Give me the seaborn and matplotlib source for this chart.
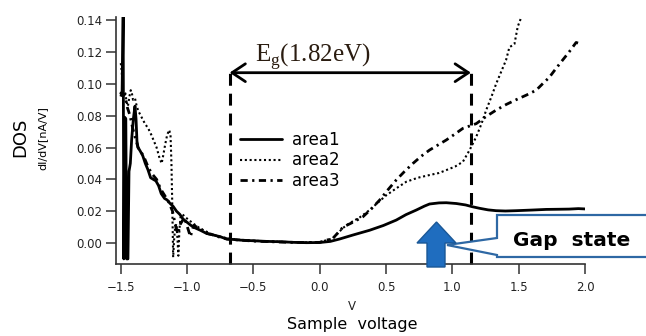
import numpy as np
import pandas as pd
import matplotlib
matplotlib.use('Agg')
import matplotlib.pyplot as plt
from matplotlib.patches import Polygon
import seaborn as sns

# --- data ---
x_area1 = [-1.500, -1.490, -1.482, -1.477, -1.470, -1.462, -1.456, -1.446, -1.438, -1.428,
           -1.418, -1.405, -1.393, -1.385, -1.378, -1.370, -1.355, -1.335, -1.315, -1.295,
           -1.275, -1.255, -1.235, -1.215, -1.195, -1.170, -1.150, -1.130, -1.105, -1.080,
           -1.055, -1.030, -1.000, -0.970, -0.940, -0.900, -0.853, -0.800, -0.753, -0.700,
           -0.650, -0.600, -0.500, -0.400, -0.300, -0.200, -0.100, 0.000, 0.080, 0.150,
           0.250, 0.376, 0.480, 0.577, 0.650, 0.728, 0.790, 0.828, 0.900, 0.954,
           1.030, 1.100, 1.150, 1.205, 1.270, 1.330, 1.400, 1.480, 1.600, 1.707,
           1.800, 1.880, 1.950, 2.000]
y_area1 = [0.094, 0.095, 0.142, -0.010, 0.079, 0.078, -0.010, -0.010, 0.045, 0.050,
           0.065, 0.078, 0.086, 0.078, 0.064, 0.060, 0.058, 0.055, 0.050, 0.046,
           0.041, 0.040, 0.039, 0.036, 0.031, 0.028, 0.027, 0.025, 0.023, 0.020,
           0.018, 0.015, 0.013, 0.011, 0.0095, 0.008, 0.006, 0.005, 0.004, 0.0025,
           0.0022, 0.0018, 0.0014, 0.0010, 0.0008, 0.0004, 0.0002, 0.0003, 0.0010, 0.0025,
           0.0050, 0.0080, 0.0110, 0.0144, 0.0178, 0.0207, 0.0232, 0.0245, 0.0252, 0.0253,
           0.0248, 0.0239, 0.0228, 0.0218, 0.0208, 0.0203, 0.0201, 0.0203, 0.0207, 0.0211,
           0.0212, 0.0213, 0.0216, 0.0214]

x_area2 = [-1.500, -1.493, -1.488, -1.485, -1.475, -1.465, -1.455, -1.446, -1.435, -1.425,
           -1.418, -1.408, -1.393, -1.380, -1.368, -1.343, -1.318, -1.293, -1.270, -1.255,
           -1.230, -1.210, -1.192, -1.180, -1.165, -1.150, -1.135, -1.125, -1.118, -1.112,
           -1.105, -1.098, -1.090, -1.080, -1.072, -1.066, -1.058, -1.050, -1.035, -1.010,
           -0.980, -0.950, -0.900, -0.850, -0.800, -0.750, -0.700, -0.600, -0.500, -0.400,
           -0.300, -0.200, -0.100, 0.000, 0.100, 0.176, 0.226, 0.300, 0.376, 0.440,
           0.502, 0.580, 0.653, 0.740, 0.828, 0.900, 0.954, 1.020, 1.079, 1.130,
           1.180, 1.220, 1.255, 1.295, 1.330, 1.370, 1.405, 1.430, 1.468, 1.493, 1.525]
y_area2 = [0.113, 0.108, 0.100, 0.094, 0.093, 0.094, 0.088, 0.086, 0.092, 0.096,
           0.095, 0.090, 0.091, 0.086, 0.083, 0.079, 0.075, 0.072, 0.068, 0.065,
           0.060, 0.054, 0.050, 0.055, 0.062, 0.068, 0.071, 0.068, 0.050, 0.025,
           -0.009, 0.002, 0.010, 0.012, 0.002, -0.008, 0.008, 0.016, 0.018, 0.016,
           0.014, 0.012, 0.009, 0.007, 0.005, 0.004, 0.003, 0.002, 0.0015, 0.0010,
           0.0008, 0.0005, 0.0004, 0.0005, 0.0030, 0.0095, 0.0125, 0.0160, 0.0207, 0.0255,
           0.0300, 0.0345, 0.0385, 0.0410, 0.0427, 0.0440, 0.0458, 0.0480, 0.0510, 0.0584,
           0.0667, 0.0750, 0.0835, 0.0920, 0.1000, 0.1080, 0.1150, 0.1230, 0.1250, 0.1360, 0.1430]

x_area3 = [-1.500, -1.490, -1.478, -1.465, -1.450, -1.430, -1.410, -1.390, -1.370, -1.345,
           -1.320, -1.290, -1.260, -1.230, -1.200, -1.170, -1.140, -1.110, -1.085, -1.070,
           -1.050, -1.020, -0.990, -0.975, -0.950, -0.900, -0.850, -0.800, -0.750, -0.700,
           -0.600, -0.500, -0.400, -0.300, -0.200, -0.100, 0.000, 0.100, 0.176, 0.250,
           0.326, 0.390, 0.452, 0.515, 0.577, 0.640, 0.703, 0.765, 0.828, 0.890,
           0.954, 1.020, 1.079, 1.130, 1.180, 1.255, 1.330, 1.405, 1.480, 1.560,
           1.632, 1.680, 1.730, 1.780, 1.832, 1.880, 1.933, 1.970]
y_area3 = [0.092, 0.094, 0.093, 0.091, 0.085, 0.080, 0.072, 0.066, 0.060, 0.057,
           0.053, 0.047, 0.043, 0.040, 0.034, 0.030, 0.026, 0.020, 0.010, 0.006,
           0.012, 0.016, 0.008, 0.004, 0.011, 0.009, 0.006, 0.005, 0.0035, 0.0025,
           0.0018, 0.0012, 0.0009, 0.0006, 0.0004, 0.0003, 0.0004, 0.0030, 0.0100, 0.0130,
           0.0165, 0.0215, 0.0270, 0.0335, 0.0396, 0.0450, 0.0500, 0.0545, 0.0584, 0.0615,
           0.0647, 0.0685, 0.0720, 0.0735, 0.0750, 0.0795, 0.0835, 0.0870, 0.0900, 0.0930,
           0.0960, 0.1000, 0.1040, 0.1095, 0.1150, 0.1200, 0.1260, 0.1250]

series_labels = ['area1', 'area2', 'area3']
x_ticks = [-1.5, -1.0, -0.5, 0.0, 0.5, 1.0, 1.5, 2.0]
y_ticks = [0.00, 0.02, 0.04, 0.06, 0.08, 0.10, 0.12, 0.14]
gap_lo, gap_hi = -0.68, 1.14
gap_label = r'E$_{\rm g}$(1.82eV)'

sns.set_style('ticks')
plt.rcParams['font.family'] = ['DejaVu Sans']
plt.rcParams['text.color'] = 'black'
plt.rcParams['mathtext.fontset'] = 'custom'
plt.rcParams['mathtext.rm'] = 'Liberation Serif'

W, H = 646, 336
fig = plt.figure(figsize=(W / 100, H / 100), dpi=100)


def fx(px):
    return px / W


def fy(py):
    return 1 - py / H


ax = fig.add_axes([fx(116), fy(264), (585 - 116) / W, (264 - 17) / H])

sns.lineplot(x=x_area1, y=y_area1, ax=ax, sort=False, estimator=None, color='black',
             lw=2.0, label=series_labels[0])
sns.lineplot(x=x_area2, y=y_area2, ax=ax, sort=False, estimator=None, color='black',
             lw=1.5, linestyle=(0, (1, 1.3)), label=series_labels[1])
sns.lineplot(x=x_area3, y=y_area3, ax=ax, sort=False, estimator=None, color='black',
             lw=2.0, linestyle=(0, (2.6, 1.6, 0.8, 1.6)), label=series_labels[2])

ax.set_xlim(-1.536, 2.0)
ax.set_ylim(-0.0132, 0.142)
ax.set_xticks(x_ticks)
ax.set_yticks(y_ticks)
ax.set_xticklabels([f'{v:.1f}'.replace('-', '\u2212') for v in x_ticks])
ax.set_yticklabels([f'{v:.2f}' for v in y_ticks])
ax.set_xlabel('')
ax.set_ylabel('')
sns.despine(ax=ax)
for s in ['left', 'bottom']:
    ax.spines[s].set_linewidth(1.2)
    ax.spines[s].set_color('#333333')
ax.tick_params(direction='out', length=7, width=1.1, colors='#333333', labelsize=8.5,
               labelcolor='#222222')
ax.tick_params(axis='x', pad=5)
ax.tick_params(axis='y', pad=3)

# band gap markers
for xv in (gap_lo, gap_hi):
    ax.plot([xv, xv], [-0.0132, 0.110], color='black', lw=2.2,
            linestyle=(0, (3.9, 2.6)), clip_on=False)
ax.annotate('', xy=(gap_lo, 0.107), xytext=(gap_hi, 0.107),
            arrowprops=dict(arrowstyle='<->,head_length=0.6,head_width=0.4',
                            lw=2, color='black', mutation_scale=16, shrinkA=0, shrinkB=0))
ax.text((gap_lo + gap_hi) / 2 - 0.28, 0.1136, gap_label, ha='center', va='baseline',
        fontsize=18, family='Liberation Serif', color='#2a1c10')

leg = ax.legend(frameon=False, loc='upper left', bbox_to_anchor=(fx(240), fy(131)),
                bbox_transform=fig.transFigure, borderaxespad=0, borderpad=0,
                handlelength=2.5, handletextpad=0.6, labelspacing=0.15, fontsize=12)
for t in leg.get_texts():
    t.set_color('black')

# axis labels
fig.text(fx(20), fy(137), 'DOS', rotation=90, ha='center', va='center', fontsize=13)
fig.text(fx(42), fy(138), 'dI/dV[nA/V]', rotation=90, ha='center', va='center', fontsize=8)
fig.text(fx(352), fy(307), 'V', ha='center', va='center', fontsize=8.5, color='#222222')
fig.text(fx(352), fy(325), 'Sample  voltage', ha='center', va='center', fontsize=11.5)

# callout box
box = [(497, 215), (652, 215), (652, 257), (497, 257), (497, 255), (447, 245), (497, 238)]
fig.patches.append(Polygon([(fx(a), fy(b)) for a, b in box], closed=True,
                           transform=fig.transFigure, facecolor='white',
                           edgecolor='#2e68a4', lw=1.6, zorder=5))
fig.text(fx(572), fy(240), 'Gap  state', ha='center', va='center', fontsize=14.5,
         fontweight='bold', color='black', zorder=6)

arrow = [(436.5, 222), (456, 243), (445, 243), (445, 267), (427, 267), (427, 243), (417, 243)]
fig.patches.append(Polygon([(fx(a), fy(b)) for a, b in arrow], closed=True,
                           transform=fig.transFigure, facecolor='#1f6dbf',
                           edgecolor='#1a5796', lw=1.0, zorder=6))

fig.savefig('out.png', dpi=100)
